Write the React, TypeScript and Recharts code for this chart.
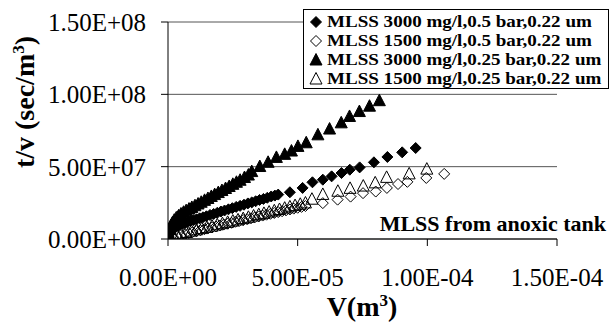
import { CartesianGrid, Legend, Scatter, ScatterChart, XAxis, YAxis } from "recharts";

const FONT = '"Liberation Serif", "Times New Roman", serif';

// V in 1e-5 m3, t/v in 1e7 sec/m3
const vA = [0.02, 0.08, 0.15, 0.22, 0.3, 0.38, 0.47, 0.56, 0.66, 0.76, 0.87, 0.98, 1.1, 1.22, 1.35, 1.48, 1.62, 1.76, 1.9, 2.04, 2.18, 2.33, 2.48, 2.63, 2.78, 2.93, 3.08, 3.23, 3.38, 3.53, 3.68, 3.83, 3.98, 4.12, 4.25, 4.7, 5.19, 5.57, 5.97, 6.31, 6.69, 7.01, 7.39, 7.94, 8.46, 9.03, 9.55];
const tA = [0.15, 0.4, 0.58, 0.72, 0.83, 0.92, 0.99, 1.05, 1.11, 1.17, 1.24, 1.3, 1.36, 1.43, 1.5, 1.57, 1.66, 1.73, 1.81, 1.9, 1.97, 2.05, 2.13, 2.22, 2.29, 2.37, 2.46, 2.53, 2.61, 2.7, 2.77, 2.85, 2.94, 3.0, 3.07, 3.23, 3.53, 3.92, 4.1, 4.33, 4.56, 4.79, 4.95, 5.3, 5.67, 5.99, 6.29];

const vB = [0.05, 0.2, 0.35, 0.5, 0.65, 0.8, 0.95, 1.1, 1.25, 1.4, 1.55, 1.7, 1.85, 2.0, 2.15, 2.3, 2.45, 2.6, 2.75, 2.9, 3.05, 3.2, 3.35, 3.5, 3.65, 3.8, 3.95, 4.1, 4.25, 4.4, 4.55, 4.7, 4.85, 5.0, 5.15, 5.3, 5.97, 6.54, 7.04, 7.52, 8.01, 8.44, 8.87, 9.23, 9.96, 10.65];
const tB = [0.05, 0.12, 0.2, 0.27, 0.34, 0.41, 0.48, 0.55, 0.61, 0.68, 0.74, 0.81, 0.87, 0.93, 1.0, 1.06, 1.12, 1.19, 1.25, 1.31, 1.37, 1.43, 1.5, 1.56, 1.62, 1.68, 1.74, 1.8, 1.86, 1.92, 1.98, 2.04, 2.1, 2.16, 2.22, 2.28, 2.48, 2.72, 2.93, 3.17, 3.28, 3.53, 3.8, 3.95, 4.22, 4.5];

const vC = [0.02, 0.06, 0.11, 0.17, 0.24, 0.32, 0.41, 0.5, 0.6, 0.7, 0.81, 0.92, 1.04, 1.16, 1.28, 1.41, 1.54, 1.67, 1.8, 1.94, 2.08, 2.22, 2.36, 2.5, 2.64, 2.78, 2.95, 3.1, 3.23, 3.54, 3.86, 4.18, 4.5, 4.76, 5.01, 5.33, 5.78, 6.23, 6.68, 7.0, 7.38, 7.77, 8.15];
const tC = [0.3, 0.65, 0.92, 1.12, 1.3, 1.46, 1.6, 1.73, 1.85, 1.96, 2.07, 2.18, 2.3, 2.42, 2.54, 2.67, 2.8, 2.94, 3.07, 3.21, 3.35, 3.49, 3.63, 3.78, 3.92, 4.06, 4.25, 4.42, 4.66, 5.01, 5.3, 5.64, 5.85, 6.08, 6.4, 6.65, 7.2, 7.6, 8.03, 8.47, 8.81, 9.18, 9.56];

const vD = [0.05, 0.2, 0.35, 0.5, 0.7, 0.9, 1.1, 1.3, 1.5, 1.7, 1.9, 2.1, 2.3, 2.5, 2.7, 2.9, 3.1, 3.3, 3.5, 3.7, 3.9, 4.1, 4.3, 4.5, 4.7, 4.9, 5.1, 5.3, 5.55, 5.97, 6.55, 7.02, 7.53, 7.99, 8.43, 9.3, 9.98];
const tD = [0.1, 0.2, 0.28, 0.36, 0.45, 0.54, 0.63, 0.72, 0.8, 0.89, 0.98, 1.06, 1.15, 1.24, 1.32, 1.41, 1.5, 1.59, 1.68, 1.77, 1.86, 1.95, 2.04, 2.13, 2.22, 2.31, 2.4, 2.49, 2.75, 3.08, 3.3, 3.5, 3.66, 3.88, 4.26, 4.5, 4.83];

const seriesNames = [
  "MLSS 3000 mg/l,0.5 bar,0.22 um",
  "MLSS 1500 mg/l,0.5 bar,0.22 um",
  "MLSS 3000 mg/l,0.25 bar,0.22 um",
  "MLSS 1500 mg/l,0.25 bar,0.22 um",
];

const xTicks = [0, 5e-5, 1e-4, 1.5e-4];
const yTicks = [0, 5e7, 1e8, 1.5e8];

const toPoints = (vs: number[], ts: number[]) =>
  vs.map((v, i) => ({ v: v * 1e-5, tv: ts[i] * 1e7 }));

const sci = (n: number) => {
  if (n === 0) return "0.00E+00";
  const [m, e] = n.toExponential(2).split("e");
  const exp = Number(e);
  return `${m}E${exp < 0 ? "-" : "+"}${String(Math.abs(exp)).padStart(2, "0")}`;
};

type Kind = "diamond" | "triangle";

const marker = (kind: Kind, filled: boolean, cx: number, cy: number) => {
  const fill = filled ? "#000" : "none";
  if (kind === "diamond") {
    const r = 5.5;
    return (
      <polygon
        points={`${cx},${cy - r} ${cx + r},${cy} ${cx},${cy + r} ${cx - r},${cy}`}
        fill={fill}
        stroke="#000"
        strokeWidth={1}
      />
    );
  }
  return (
    <polygon
      points={`${cx},${cy - 6.5} ${cx + 6},${cy + 5} ${cx - 6},${cy + 5}`}
      fill={fill}
      stroke="#000"
      strokeWidth={1}
    />
  );
};

const shapeOf = (kind: Kind, filled: boolean) => (p: any) => marker(kind, filled, p.cx, p.cy);

const styles: { kind: Kind; filled: boolean }[] = [
  { kind: "diamond", filled: true },
  { kind: "diamond", filled: false },
  { kind: "triangle", filled: true },
  { kind: "triangle", filled: false },
];

const LegendBox = () => (
  <div
    style={{
      border: "1px solid #000",
      background: "#fff",
      boxSizing: "border-box",
      width: 306,
      height: 80,
      padding: "2px 0 0 4px",
      fontFamily: FONT,
      fontWeight: "bold",
      fontSize: 17,
      lineHeight: "19px",
      color: "#000",
    }}
  >
    {seriesNames.map((name, i) => (
      <div key={name} style={{ display: "flex", alignItems: "center", whiteSpace: "nowrap", height: 19 }}>
        <svg width={16} height={14} style={{ marginRight: 3, flex: "none" }}>
          {marker(styles[i].kind, styles[i].filled, 8, 7)}
        </svg>
        <span style={{ display: "inline-block", transform: "scaleX(1.12)", transformOrigin: "0 50%" }}>
          {name}
        </span>
      </div>
    ))}
  </div>
);

export default function App() {
  const sets = [toPoints(vA, tA), toPoints(vB, tB), toPoints(vC, tC), toPoints(vD, tD)];
  return (
    <div style={{ position: "absolute", left: 0, top: 0, background: "#fff" }}>
      <ScatterChart
        width={611}
        height={327}
        margin={{ top: 22, right: 54, left: 108, bottom: 28 }}
      >
        <CartesianGrid horizontal vertical={false} stroke="#555" strokeWidth={1} />
        <XAxis
          type="number"
          dataKey="v"
          domain={[0, 1.5e-4]}
          ticks={xTicks}
          tickFormatter={sci}
          height={60}
          stroke="#000"
          tickSize={7}
          tickMargin={22}
          tick={{ fill: "#000", fontFamily: FONT, fontSize: 25 }}
          allowDataOverflow
        />
        <YAxis
          type="number"
          dataKey="tv"
          domain={[0, 1.5e8]}
          ticks={yTicks}
          tickFormatter={sci}
          width={60}
          stroke="#000"
          tickSize={7}
          tickMargin={15}
          tick={{ fill: "#000", fontFamily: FONT, fontSize: 25 }}
          allowDataOverflow
        />
        <Legend
          layout="vertical"
          align="center"
          verticalAlign="middle"
          wrapperStyle={{ left: 303, top: 9, width: 306, height: 80 }}
          content={() => <LegendBox />}
        />
        {sets.map((d, i) => (
          <Scatter
            key={seriesNames[i]}
            name={seriesNames[i]}
            data={d}
            shape={shapeOf(styles[i].kind, styles[i].filled)}
            isAnimationActive={false}
          />
        ))}
        <text
          x={606}
          y={231}
          textAnchor="end"
          fontFamily={FONT}
          fontWeight="bold"
          fontSize={22}
          fill="#000"
        >
          MLSS from anoxic tank
        </text>
        <text
          x={362}
          y={316}
          textAnchor="middle"
          fontFamily={FONT}
          fontWeight="bold"
          fontSize={28}
          fill="#000"
        >
          V(m<tspan dy={-10} fontSize={17}>3</tspan>
          <tspan dy={10}>)</tspan>
        </text>
        <text
          transform="translate(34,102) rotate(-90)"
          textAnchor="middle"
          fontFamily={FONT}
          fontWeight="bold"
          fontSize={28}
          fill="#000"
        >
          t/v (sec/m<tspan dy={-10} fontSize={17}>3</tspan>
          <tspan dy={10}>)</tspan>
        </text>
      </ScatterChart>
    </div>
  );
}
